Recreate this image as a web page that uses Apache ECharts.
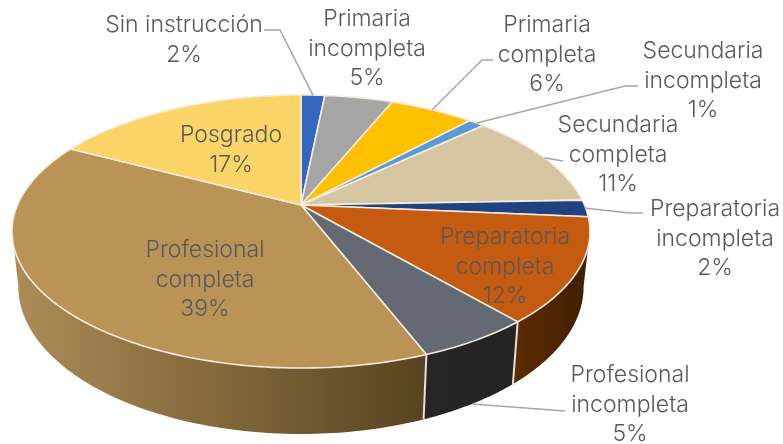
<!DOCTYPE html>
<html><head><meta charset="utf-8">
<style>html,body{margin:0;padding:0;background:#fff}#c{width:783px;height:444px}</style>
<script src="https://cdn.jsdelivr.net/npm/echarts@6/dist/echarts.min.js"></script>
</head><body><div id="c"></div>
<script>
// Data
var categories = ['Sin instrucción','Primaria\nincompleta','Primaria\ncompleta','Secundaria\nincompleta','Secundaria\ncompleta','Preparatoria\nincompleta','Preparatoria\ncompleta','Profesional\nincompleta','Profesional\ncompleta','Posgrado'];
var values = [1.6,4.6,5.7,1.1,11.4,2.0,12.3,5.4,38.6,17.3];

// Styling
var topColors = ['#3468C0','#A5A5A5','#FFC000','#5B9BD5','#D5C6A1','#1F4280','#C55A11','#636A74','#BA9356','#FBD567'];
var wallColors = [null,null,null,null,null,null,['#5E2C02','#3E1E02'],['#262626','#232323'],['#AD8C57','#57431F'],null];
var labelCenters = [[184,40],[367,49],[547,55],[703,81],[618,155],[715,239],[505,267],[630,405],[205,280],[231,150]];
var elbows = [[[264,30],[280,30]],null,[[493,60],[482,60]],[[638,86],[625,86]],[[563,161]],[[643,213],[630,213]],null,[[565,411]],null,null];
var leaderOnBase = [false,false,false,false,false,false,false,true,false,false];

// Projection of the tilted disc
var C = {x:301,y:205,A:283.5,B:131.4,p:0.194};
var visible = [101,259];
var total = values.reduce(function(a,b){return a+b;},0);
var starts = []; (function(){var s=0;values.forEach(function(v){starts.push(s);s+=v;});})();
function deg(pct){return pct/total*360;}
function rim(d){
  var r=d*Math.PI/180,u=Math.sin(r),v=Math.cos(r),k=1+C.p*v;
  return [C.x+C.A*u/k, C.y-C.B*v/k];
}
function base(d){
  var q=rim(d);
  return [C.x+(q[0]-C.x)*0.978, q[1]+55+(q[1]-231)*0.08];
}
function arc(a,b,fn){var n=Math.max(2,Math.ceil(Math.abs(b-a))),o=[];for(var i=0;i<=n;i++)o.push(fn(a+(b-a)*i/n));return o;}

function wallItem(params){
  var i=params.dataIndex,a=Math.max(deg(starts[i]),visible[0]),b=Math.min(deg(starts[i]+values[i]),visible[1]);
  if(a>=b||!wallColors[i])return {type:'group',children:[]};
  var pts=arc(a,b,rim).concat(arc(a,b,base).reverse());
  return {type:'polygon',shape:{points:pts},style:{
    fill:{type:'linear',x:0,y:0,x2:1,y2:0,colorStops:[{offset:0,color:wallColors[i][0]},{offset:1,color:wallColors[i][1]}]},
    lineWidth:0}};
}
function edgeItem(params){
  var i=params.dataIndex,d=deg(starts[i]);
  if(d<visible[0]||d>visible[1])return {type:'group',children:[]};
  var p=rim(d),q=base(d);
  return {type:'line',shape:{x1:p[0],y1:p[1],x2:q[0],y2:q[1]},style:{stroke:'#E6E0D6',lineWidth:2}};
}
function topItem(params){
  var i=params.dataIndex,a=deg(starts[i]),b=deg(starts[i]+values[i]);
  var pts=[[C.x,C.y]].concat(arc(a,b,rim));
  return {type:'polygon',shape:{points:pts},style:{fill:topColors[i],stroke:'#F6EBDD',lineWidth:1.6,lineJoin:'round'}};
}
function labelItem(params){
  var i=params.dataIndex,kids=[];
  var c=labelCenters[i];
  if(elbows[i]){
    var mid=deg(starts[i]+values[i]/2),end=leaderOnBase[i]?base(mid):rim(mid);
    kids.push({type:'polyline',shape:{points:elbows[i].concat([end])},style:{fill:null,stroke:'#A6A6A6',lineWidth:1.5}});
  }
  kids.push({type:'text',style:{x:c[0],y:c[1],text:categories[i]+'\n'+Math.round(values[i])+'%',align:'center',verticalAlign:'middle',
    fill:'#595959',font:'300 23px Inter, "Open Sans", sans-serif',lineHeight:29.5}});
  return {type:'group',children:kids};
}
var data = values.map(function(v){return [v];});
var chart = echarts.init(document.getElementById('c'),null,{renderer:'canvas'});
chart.setOption({
  animation:false,
  backgroundColor:'#fff',
  series:[
    {type:'custom',coordinateSystem:'none',data:data,renderItem:wallItem,z:1,silent:true},
    {type:'custom',coordinateSystem:'none',data:data,renderItem:edgeItem,z:2,silent:true},
    {type:'custom',coordinateSystem:'none',data:data,renderItem:topItem,z:3,silent:true},
    {type:'custom',coordinateSystem:'none',data:data,renderItem:labelItem,z:4,silent:true}
  ]
});
</script></body></html>
